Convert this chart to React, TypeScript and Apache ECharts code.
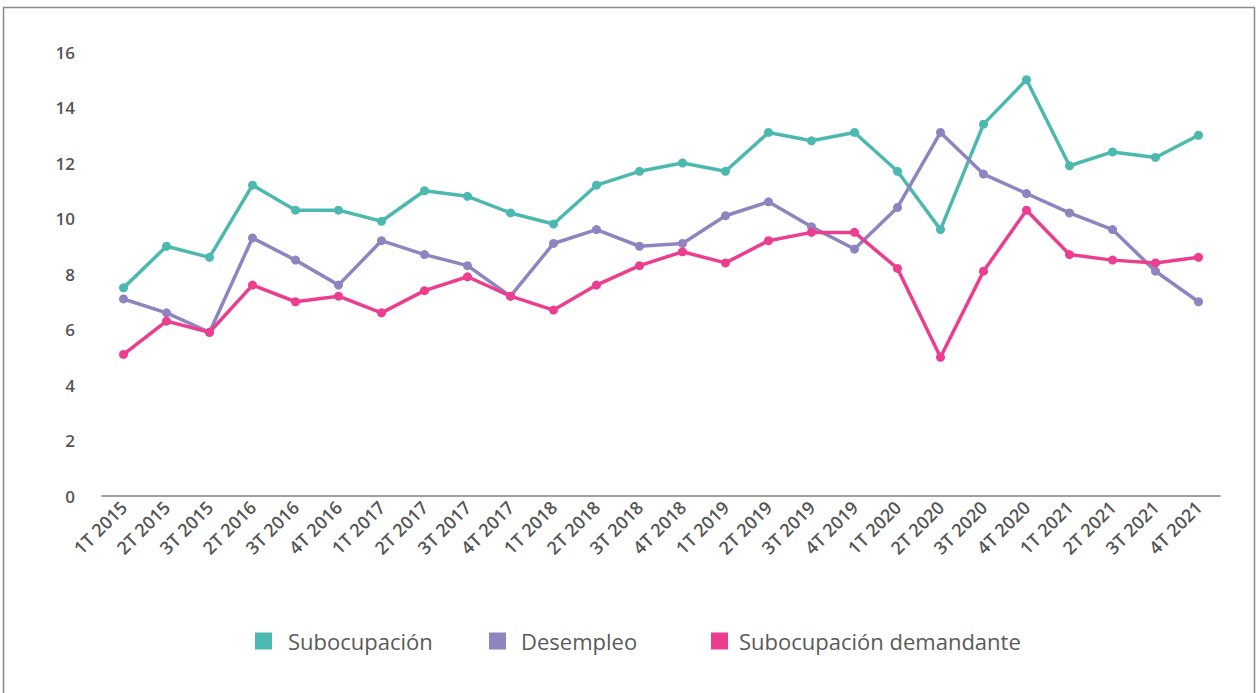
import React, { useEffect, useRef } from "react";
import * as echarts from "echarts";

const categories = [
  "1T 2015", "2T 2015", "3T 2015", "2T 2016", "3T 2016", "4T 2016",
  "1T 2017", "2T 2017", "3T 2017", "4T 2017", "1T 2018", "2T 2018",
  "3T 2018", "4T 2018", "1T 2019", "2T 2019", "3T 2019", "4T 2019",
  "1T 2020", "2T 2020", "3T 2020", "4T 2020", "1T 2021", "2T 2021",
  "3T 2021", "4T 2021",
];

const subocupacion = [
  7.5, 9.0, 8.6, 11.2, 10.3, 10.3, 9.9, 11.0, 10.8, 10.2, 9.8, 11.2,
  11.7, 12.0, 11.7, 13.1, 12.8, 13.1, 11.7, 9.6, 13.4, 15.0, 11.9, 12.4,
  12.2, 13.0,
];

const desempleo = [
  7.1, 6.6, 5.9, 9.3, 8.5, 7.6, 9.2, 8.7, 8.3, 7.2, 9.1, 9.6,
  9.0, 9.1, 10.1, 10.6, 9.7, 8.9, 10.4, 13.1, 11.6, 10.9, 10.2, 9.6,
  8.1, 7.0,
];

const subocupacionDemandante = [
  5.1, 6.3, 5.9, 7.6, 7.0, 7.2, 6.6, 7.4, 7.9, 7.2, 6.7, 7.6,
  8.3, 8.8, 8.4, 9.2, 9.5, 9.5, 8.2, 5.0, 8.1, 10.3, 8.7, 8.5,
  8.4, 8.6,
];

const seriesNames = ["Subocupación", "Desempleo", "Subocupación demandante"];
const colors = ["#4BB9B0", "#8E84C0", "#EC3D8E"];

export default function App() {
  const ref = useRef<HTMLDivElement>(null);

  useEffect(() => {
    if (!ref.current) return;
    const chart = echarts.init(ref.current, undefined, { renderer: "svg" });
    const mkSeries = (name: string, data: number[], color: string) => ({
      name,
      type: "line",
      data,
      symbol: "circle",
      symbolSize: 9,
      showSymbol: true,
      lineStyle: { width: 3.5, color },
      itemStyle: { color },
    });
    const legendText = {
      fontFamily: "Open Sans",
      fontSize: 22,
      color: "#5a5a5a",
    };
    const mkLegend = (name: string, left: number, pad: number) => ({
      data: [name],
      left,
      top: 625,
      icon: "rect",
      itemWidth: 17,
      itemHeight: 17,
      itemGap: 0,
      textStyle: { ...legendText, padding: [0, 0, 0, pad] },
      selectedMode: false,
    });
    chart.setOption({
      animation: false,
      backgroundColor: "#ffffff",
      color: colors,
      graphic: [
        {
          type: "rect",
          shape: { x: 3.5, y: 7.5, width: 1251, height: 700 },
          style: { fill: "none", stroke: "#8a8a8a", lineWidth: 1.5 },
          silent: true,
        },
      ],
      legend: [
        mkLegend(seriesNames[0], 250, 11),
        mkLegend(seriesNames[1], 484, 10),
        mkLegend(seriesNames[2], 706, 6),
      ],
      grid: { left: 102, right: 38, top: 52, bottom: 197, containLabel: false },
      xAxis: {
        type: "category",
        data: categories,
        boundaryGap: true,
        axisLine: { lineStyle: { color: "#808080", width: 1.5 } },
        axisTick: { show: false },
        axisLabel: {
          rotate: 45,
          interval: 0,
          margin: 8,
          fontFamily: "Open Sans",
          fontWeight: 600,
          fontSize: 18,
          color: "#555555",
        },
      },
      yAxis: {
        type: "value",
        min: 0,
        max: 16,
        interval: 2,
        axisLine: { show: false },
        axisTick: { show: false },
        splitLine: { show: false },
        axisLabel: {
          margin: 27,
          fontFamily: "Open Sans",
          fontWeight: 600,
          fontSize: 17,
          color: "#555555",
        },
      },
      series: [
        mkSeries(seriesNames[0], subocupacion, colors[0]),
        mkSeries(seriesNames[1], desempleo, colors[1]),
        mkSeries(seriesNames[2], subocupacionDemandante, colors[2]),
      ],
    });
    return () => chart.dispose();
  }, []);

  return (
    <div
      ref={ref}
      style={{ position: "absolute", left: 0, top: 0, width: 1258, height: 693 }}
    />
  );
}
